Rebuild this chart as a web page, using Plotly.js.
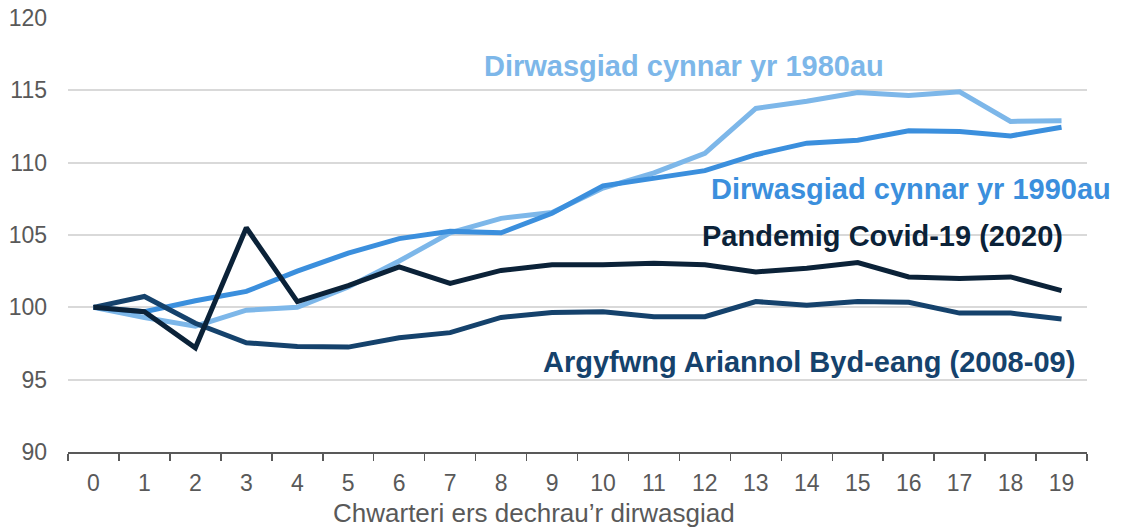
<!DOCTYPE html>
<html>
<head>
<meta charset="utf-8">
<script src="https://cdn.plot.ly/plotly-3.0.1.min.js"></script>
<style>html,body{margin:0;padding:0;background:#fff;}#chart{width:1124px;height:529px;}</style>
</head>
<body>
<div id="chart"></div>
<script>
const quarters = ["0","1","2","3","4","5","6","7","8","9","10","11","12","13","14","15","16","17","18","19"];

const seriesNames = [
  "Dirwasgiad cynnar yr 1980au",
  "Dirwasgiad cynnar yr 1990au",
  "Argyfwng Ariannol Byd-eang (2008-09)",
  "Pandemig Covid-19 (2020)"
];

const early1980s = [100, 99.3, 98.7, 99.8, 100.0, 101.4, 103.2, 105.15, 106.15, 106.55, 108.25, 109.3, 110.65, 113.75, 114.25, 114.85, 114.65, 114.9, 112.85, 112.9];
const early1990s = [100, 99.7, 100.45, 101.1, 102.5, 103.75, 104.75, 105.25, 105.15, 106.5, 108.4, 108.9, 109.45, 110.55, 111.35, 111.55, 112.2, 112.15, 111.85, 112.45];
const gfc2008 = [100, 100.75, 98.9, 97.55, 97.3, 97.25, 97.9, 98.25, 99.3, 99.65, 99.7, 99.35, 99.35, 100.4, 100.15, 100.4, 100.35, 99.6, 99.6, 99.2];
const covid2020 = [100, 99.7, 97.2, 105.5, 100.4, 101.5, 102.8, 101.65, 102.55, 102.95, 102.95, 103.05, 102.95, 102.45, 102.7, 103.1, 102.1, 102.0, 102.1, 101.15];

const yTicks = [90, 95, 100, 105, 110, 115, 120];
const xTitle = "Chwarteri ers dechrau’r dirwasgiad";

const colors = ["#7db7e9", "#3b8fdd", "#15426c", "#0b2238"];
const values = [early1980s, early1990s, gfc2008, covid2020];

const traces = values.map((v, i) => ({
  x: quarters, y: v, type: "scatter", mode: "lines", name: seriesNames[i],
  line: {color: colors[i], width: 5}, hoverinfo: "skip"
}));

const labelPos = [
  {x: 11.59, y: 116.66},
  {x: 16.04, y: 108.15},
  {x: 14.04, y: 96.2},
  {x: 15.48, y: 104.9}
];

const annotations = seriesNames.map((n, i) => ({
  text: "<b>" + n + "</b>", x: labelPos[i].x, y: labelPos[i].y, xref: "x", yref: "y",
  showarrow: false, xanchor: "center", yanchor: "middle",
  font: {family: "Liberation Sans, Arial, sans-serif", size: 29, color: colors[i]}
}));

annotations.push({
  text: xTitle, xref: "paper", yref: "paper", x: (534 - 68) / (1087 - 68), y: -0.14,
  xanchor: "center", yanchor: "middle", showarrow: false,
  font: {family: "Liberation Sans, Arial, sans-serif", size: 26, color: "#595959"}
});

const layout = {
  width: 1124, height: 529,
  margin: {l: 68, r: 37, t: 18, b: 77},
  paper_bgcolor: "#fff", plot_bgcolor: "#fff",
  showlegend: false,
  font: {family: "Liberation Sans, Arial, sans-serif", color: "#595959", size: 23},
  xaxis: {
    type: "category", range: [-0.5, 19.5], tickvals: quarters,
    tickson: "boundaries", ticks: "outside", ticklen: 7, tickwidth: 1.5, tickcolor: "#595959",
    showline: true, linecolor: "#595959", linewidth: 1.5, showgrid: false, zeroline: false,
    ticklabelstandoff: 10,
    tickfont: {size: 23, color: "#595959"}
  },
  yaxis: {
    range: [90, 120], tickvals: yTicks, showgrid: true, gridcolor: "#d9d9d9", gridwidth: 1.8,
    zeroline: false, showline: false, ticks: "", ticklabelstandoff: 20,
    tickfont: {size: 23, color: "#595959"}
  },
  annotations: annotations
};

Plotly.newPlot("chart", traces, layout, {displayModeBar: false, staticPlot: true});
</script>
</body>
</html>
